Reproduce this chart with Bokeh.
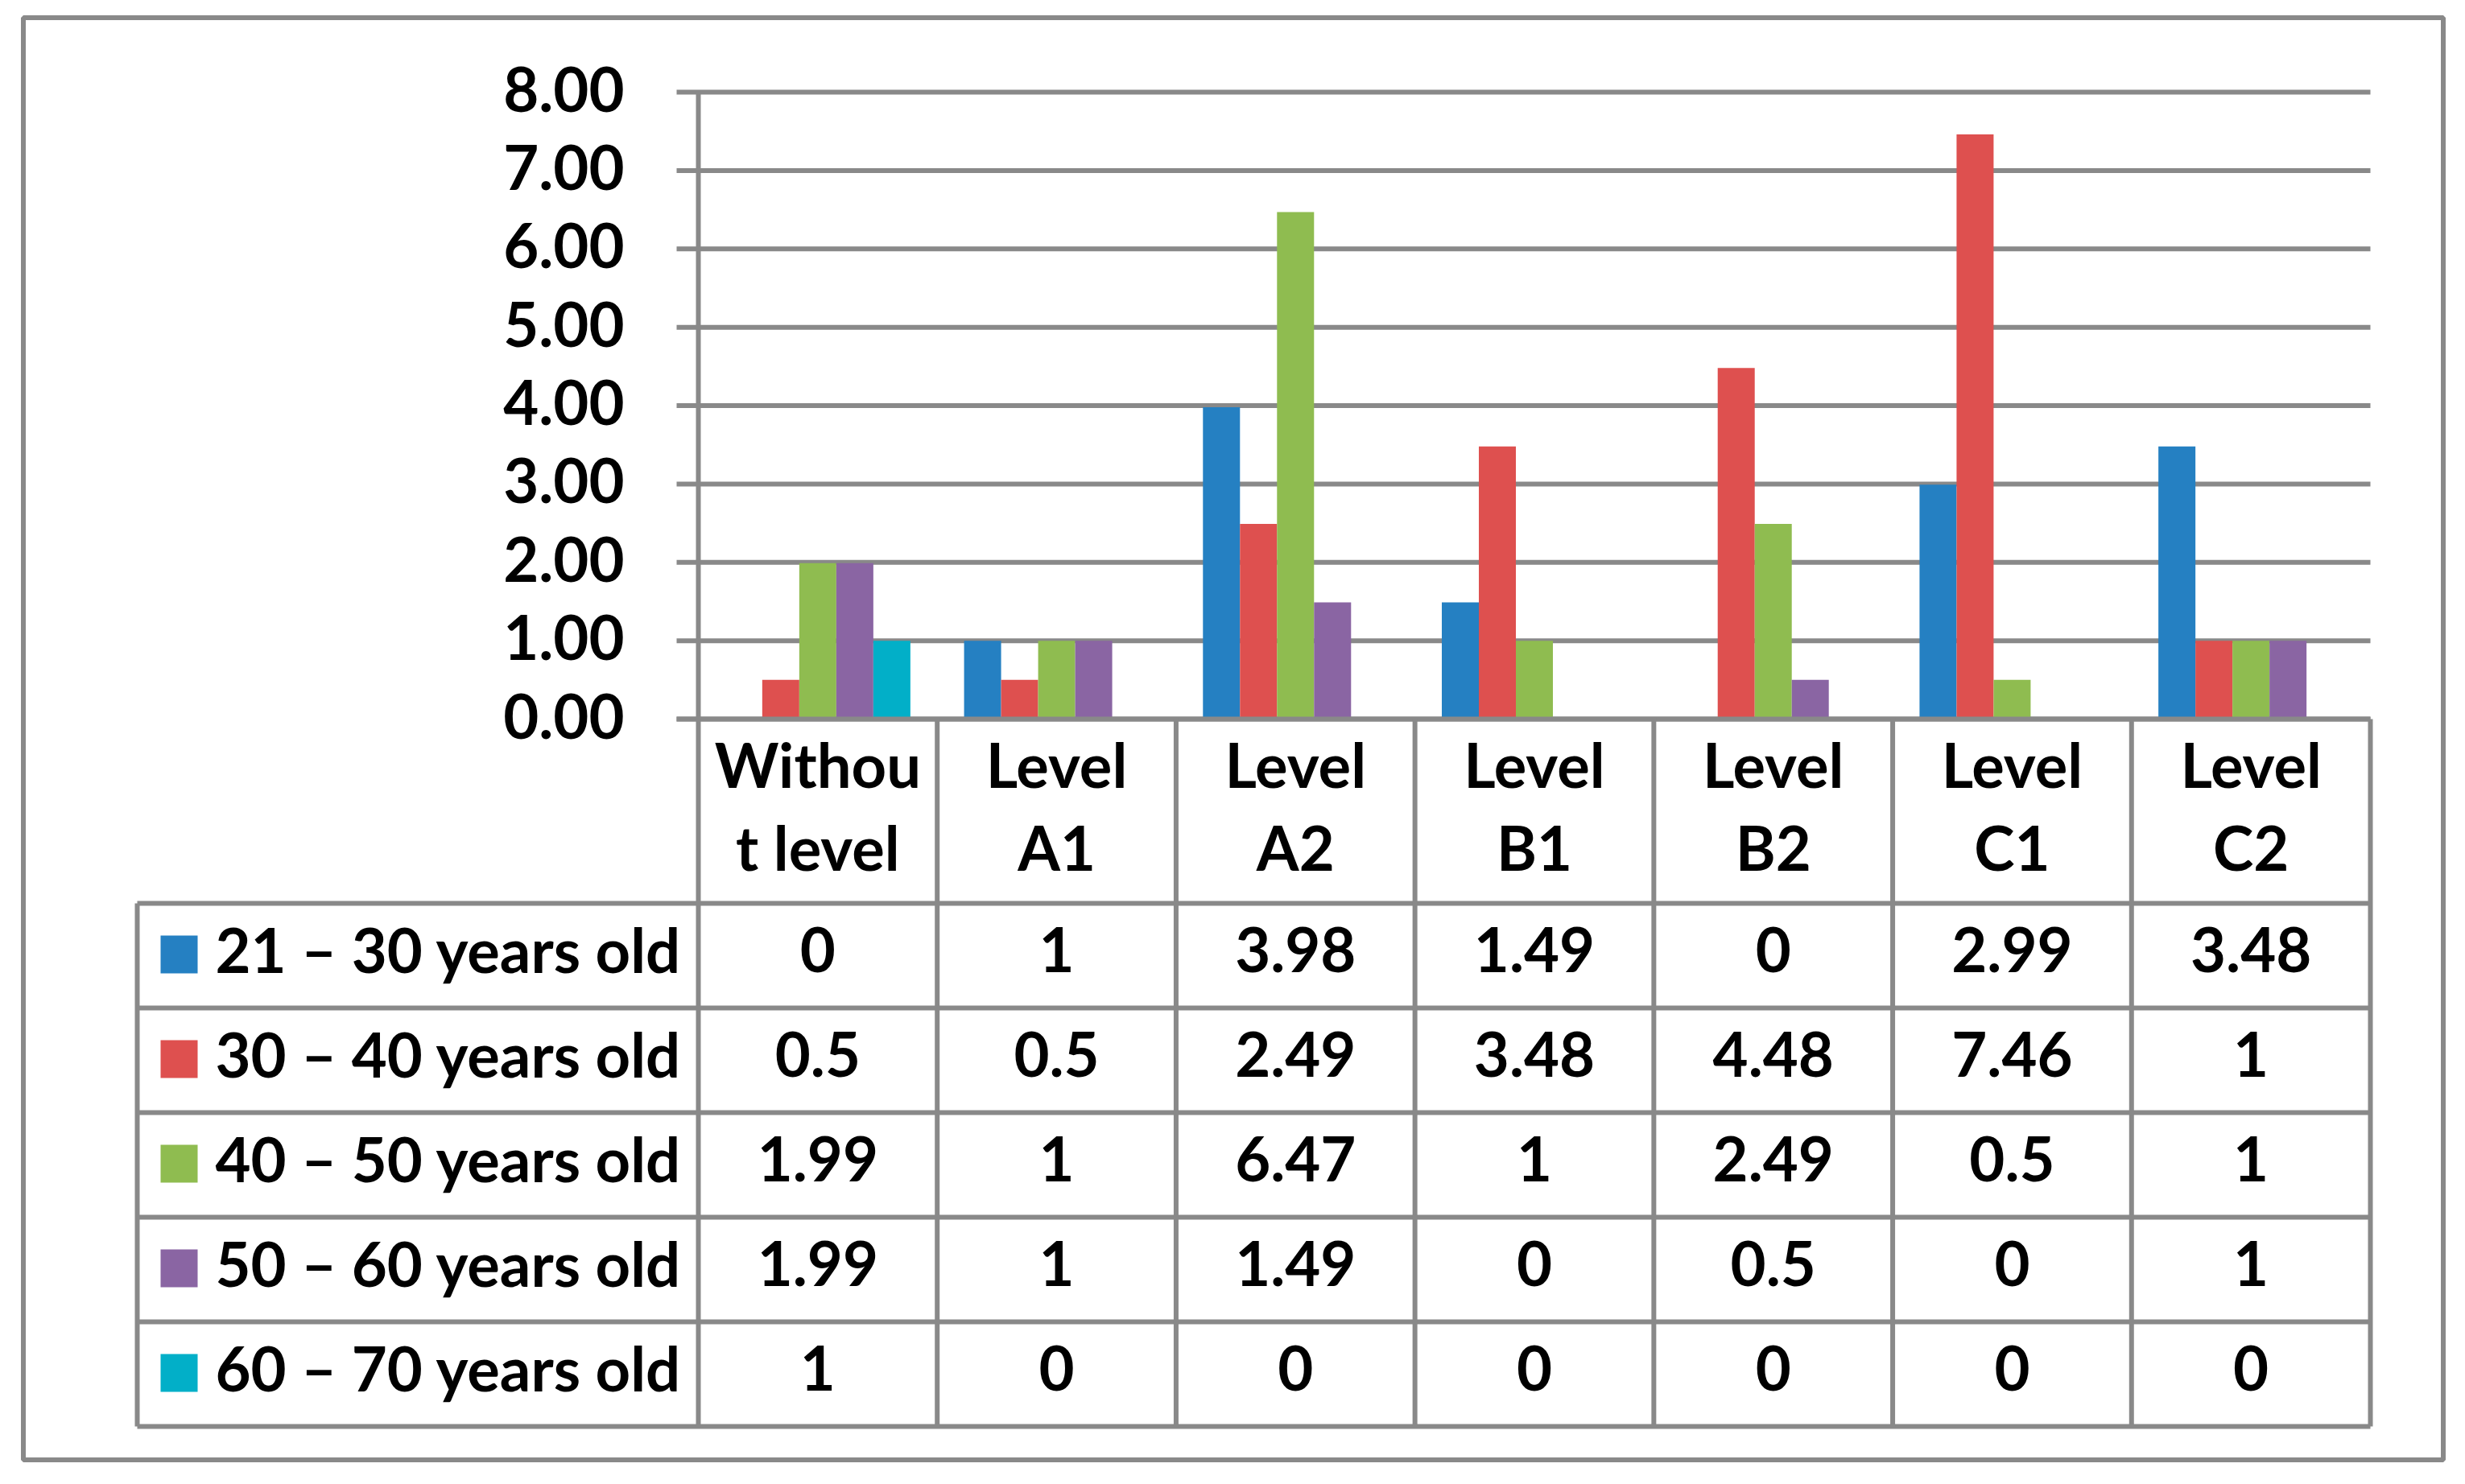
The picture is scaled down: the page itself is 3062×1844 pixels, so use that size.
from bokeh.plotting import figure
from bokeh.models import Range1d
from bokeh.core.properties import value
from bokeh.embed import file_html
from bokeh.resources import INLINE

# ---------------- data ----------------
categories = ["Without level", "Level A1", "Level A2", "Level B1", "Level B2", "Level C1", "Level C2"]
header_line1 = ["Withou", "Level", "Level", "Level", "Level", "Level", "Level"]
header_line2 = ["t level", "A1", "A2", "B1", "B2", "C1", "C2"]
series_names = ["21 – 30 years old", "30 – 40 years old", "40 – 50 years old",
                "50 – 60 years old", "60 – 70 years old"]
age_21_30 = [0, 1, 3.98, 1.49, 0, 2.99, 3.48]
age_30_40 = [0.5, 0.5, 2.49, 3.48, 4.48, 7.46, 1]
age_40_50 = [1.99, 1, 6.47, 1, 2.49, 0.5, 1]
age_50_60 = [1.99, 1, 1.49, 0, 0.5, 0, 1]
age_60_70 = [1, 0, 0, 0, 0, 0, 0]
y_ticks = [0, 1, 2, 3, 4, 5, 6, 7, 8]

series_values = [age_21_30, age_30_40, age_40_50, age_50_60, age_60_70]
colors = ["#2580C2", "#DE504F", "#8FBC50", "#8A65A3", "#02AFC8"]
GREY = "#898989"
FONT = value("Lato")
FS = "76px"

# ---------------- layout (page pixels) ----------------
W, H = 3046, 1828
OFF = 0
AX_X = 867          # page x of the value axis (category 0 edge)
COL_W = 296.714     # page px per category
Y0 = 893            # page y of value 0
Y_UNIT = 97.375     # page px per value unit
TXT_DY = -4         # small vertical text correction

x_start = (OFF - AX_X) / COL_W
x_end = (OFF + W - AX_X) / COL_W
y_end = (Y0 - OFF) / Y_UNIT
y_start = -(OFF + H - Y0) / Y_UNIT

p = figure(width=W, height=H, output_backend="svg", toolbar_location=None,
           x_range=Range1d(x_start, x_end), y_range=Range1d(y_start, y_end),
           x_axis_type=None, y_axis_type=None, min_border=0,
           outline_line_color=None, background_fill_color="white",
           border_fill_color="white")
p.extra_x_ranges = {"px": Range1d(OFF, OFF + W)}
p.extra_y_ranges = {"px": Range1d(OFF + H, OFF)}

ncat = len(categories)
tick_left = (840 - AX_X) / COL_W

# outer border
p.quad(left=[28.5], right=[3034.5], top=[21.5], bottom=[1813.5],
       x_range_name="px", y_range_name="px",
       fill_color=None, line_color=GREY, line_width=6)

# gridlines (through value scale)
p.segment(x0=[tick_left] * len(y_ticks), x1=[ncat] * len(y_ticks),
          y0=y_ticks, y1=y_ticks, line_color=GREY, line_width=6)

# bars
bw = 46 / COL_W
for k, (vals, col) in enumerate(zip(series_values, colors)):
    xs = [i + 0.5 + (k - 2) * bw for i in range(ncat)]
    p.vbar(x=xs, top=vals, bottom=0, width=bw, fill_color=col, line_color=None)

# value-axis line
p.segment(x0=[0], x1=[0], y0=[y_ticks[-1]], y1=[y_ticks[0]], line_color=GREY, line_width=6)

# y tick labels
p.text(x=[775] * len(y_ticks), y=y_ticks, text=[f"{t:.2f}" for t in y_ticks],
       x_range_name="px", text_align="right", text_baseline="middle",
       y_offset=TXT_DY, text_font=FONT, text_font_style="bold",
       text_font_size=FS, text_color="black")

# ---------------- data table ----------------
HEAD_BOTTOM = 1122
ROW_H = 130
nrows = len(series_names)
row_tops = [HEAD_BOTTOM + r * ROW_H for r in range(nrows)]
TABLE_BOTTOM = HEAD_BOTTOM + nrows * ROW_H
LEG_LEFT = 170

# header top line (value 0) redrawn on top of bars
p.segment(x0=[tick_left], x1=[ncat], y0=[0], y1=[0], line_color=GREY, line_width=6)

# horizontal row lines
hl = [HEAD_BOTTOM] + [t + ROW_H for t in row_tops]
p.segment(x0=[LEG_LEFT] * len(hl), x1=[AX_X + ncat * COL_W] * len(hl), y0=hl, y1=hl,
          x_range_name="px", y_range_name="px", line_color=GREY, line_width=6)

# vertical column lines (category edges)
p.segment(x0=list(range(ncat + 1)), x1=list(range(ncat + 1)),
          y0=[Y0] * (ncat + 1), y1=[TABLE_BOTTOM] * (ncat + 1),
          y_range_name="px", line_color=GREY, line_width=6)
# legend column left line
p.segment(x0=[LEG_LEFT], x1=[LEG_LEFT], y0=[HEAD_BOTTOM], y1=[TABLE_BOTTOM],
          x_range_name="px", y_range_name="px", line_color=GREY, line_width=6)

# header labels
cx = [i + 0.5 for i in range(ncat)]
p.text(x=cx, y=[953 + TXT_DY] * ncat, text=header_line1, y_range_name="px",
       text_align="center", text_baseline="middle",
       text_font=FONT, text_font_style="bold", text_font_size=FS, text_color="black")
p.text(x=cx, y=[1056 + TXT_DY] * ncat, text=header_line2, y_range_name="px",
       text_align="center", text_baseline="middle",
       text_font=FONT, text_font_style="bold", text_font_size=FS, text_color="black")

# legend swatches + names
p.rect(x=[222] * nrows, y=[t + 63.5 for t in row_tops], width=46, height=47,
       x_range_name="px", y_range_name="px", fill_color=colors, line_color=None)
p.text(x=[267] * nrows, y=[t + 61 + TXT_DY for t in row_tops], text=series_names,
       x_range_name="px", y_range_name="px", text_align="left",
       text_baseline="middle", text_font=FONT, text_font_style="bold",
       text_font_size=FS, text_color="black")

# cell values
for r, vals in enumerate(series_values):
    p.text(x=cx, y=[row_tops[r] + 61 + TXT_DY] * ncat, text=[f"{v:g}" for v in vals],
           y_range_name="px", text_align="center", text_baseline="middle",
           text_font=FONT, text_font_style="bold", text_font_size=FS, text_color="black")

open("out.html", "w").write(file_html(p, INLINE))
